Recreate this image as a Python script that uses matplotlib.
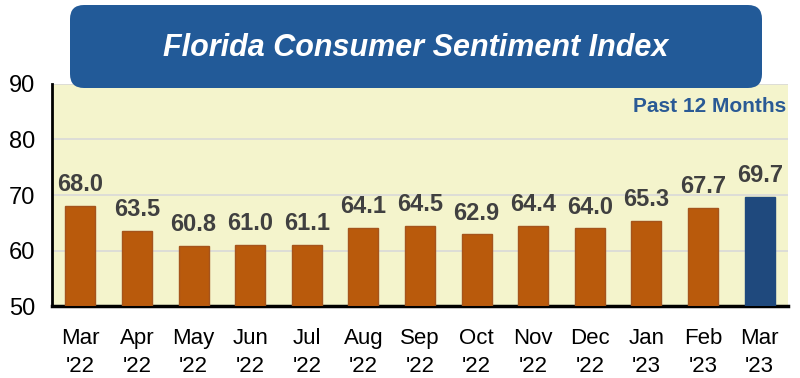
import matplotlib.pyplot as plt
from matplotlib.patches import FancyBboxPatch

months = ["Mar\n'22", "Apr\n'22", "May\n'22", "Jun\n'22", "Jul\n'22", "Aug\n'22",
          "Sep\n'22", "Oct\n'22", "Nov\n'22", "Dec\n'22", "Jan\n'23", "Feb\n'23",
          "Mar\n'23"]
index_values = [68.0, 63.5, 60.8, 61.0, 61.1, 64.1, 64.5, 62.9, 64.4, 64.0, 65.3, 67.7, 69.7]
y_ticks = [50, 60, 70, 80, 90]

plt.rcParams['font.family'] = ['Liberation Sans', 'DejaVu Sans']

fig = plt.figure(figsize=(8, 3.78), dpi=100)
ax = fig.add_axes([0.065, 0.19, 0.92, 0.588])

colors = ['#b95a0c'] * (len(index_values) - 1) + ['#1f497d']
edges = ['#a5541c'] * (len(index_values) - 1) + ['#1f497d']
x = range(len(index_values))
ax.bar(x, [v - 50 for v in index_values], bottom=50, width=0.53,
       color=colors, edgecolor=edges, linewidth=1, zorder=3)

for i, v in enumerate(index_values):
    ax.annotate(f'{v:.1f}', (i, v), xytext=(0, 7), textcoords='offset points',
                ha='center', va='bottom', fontsize=17, fontweight='bold',
                color='#404040')

ax.set_facecolor('#f4f4cc')
ax.set_xlim(-0.5, 12.5)
ax.set_ylim(50, 90)
ax.set_yticks(y_ticks)
ax.set_xticks(list(x))
ax.set_xticklabels(months, linespacing=1.4)
ax.tick_params(axis='both', length=0, labelsize=17)
ax.tick_params(axis='x', labelsize=16, pad=16)
ax.tick_params(axis='y', pad=12)
ax.grid(axis='y', color='#d9d9d9', linewidth=1.2, zorder=0)
ax.spines['top'].set_visible(False)
ax.spines['right'].set_visible(False)
ax.spines['left'].set_linewidth(2)
ax.spines['bottom'].set_linewidth(2.5)

ax.text(0.997, 0.9, 'Past 12 Months', transform=ax.transAxes, ha='right', va='center',
        fontsize=15, fontweight='bold', color='#2a5a95')

# title banner, drawn in pixel coordinates on an overlay axes
over = fig.add_axes([0, 0, 1, 1], facecolor='none')
over.set_xlim(0, 800)
over.set_ylim(378, 0)
over.axis('off')
banner = FancyBboxPatch((70, 5), 692, 83, boxstyle='round,pad=0,rounding_size=14',
                        facecolor='#225a98', edgecolor='none')
over.add_patch(banner)
over.text(416, 48, 'Florida Consumer Sentiment Index', ha='center', va='center',
          fontsize=22, fontweight='bold', style='italic', color='white')

fig.savefig('out.png', dpi=100)
